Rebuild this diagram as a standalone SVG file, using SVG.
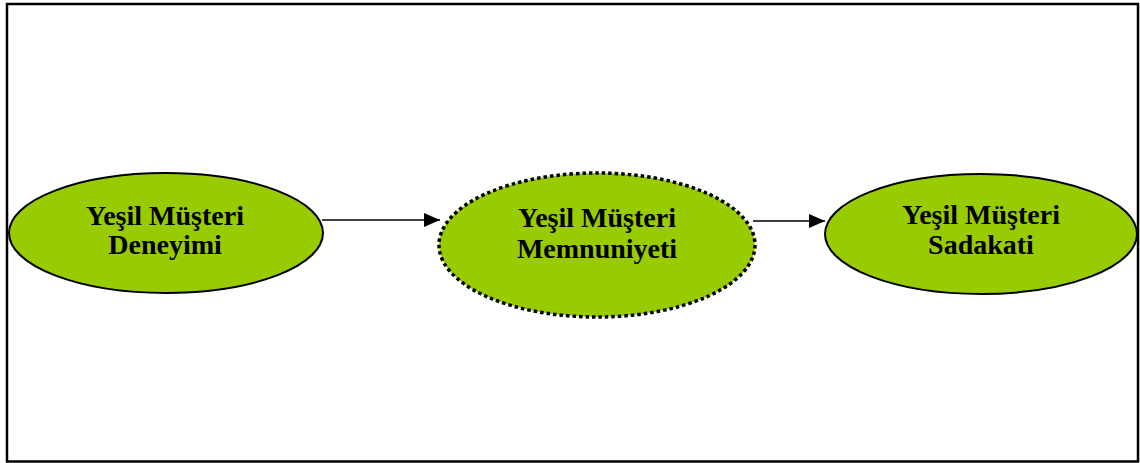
<svg xmlns="http://www.w3.org/2000/svg" width="1140" height="463" viewBox="0 0 1140 463">
  <style>
    .node { fill: #99cc00; stroke: #000; stroke-width: 2; }
    .dotted { stroke-width: 3.5; stroke-dasharray: 3.5 3; }
    .label { font-family: "Liberation Serif", "Times New Roman", serif; font-weight: bold; font-size: 28px; fill: #000; text-anchor: middle; }
    .edge { stroke: #000; stroke-width: 1.6; fill: none; marker-end: url(#arrow); }
  </style>
  <defs>
    <marker id="arrow" viewBox="0 0 16 14" refX="16" refY="7" markerWidth="16" markerHeight="14" markerUnits="userSpaceOnUse" orient="auto">
      <path d="M0,0 L16,7 L0,14 Z" fill="#000"/>
    </marker>
  </defs>
  <rect x="0" y="0" width="1140" height="463" fill="#fff"/>
  <!-- outer frame -->
  <rect x="7" y="4" width="1131" height="457.5" fill="none" stroke="#000" stroke-width="2.5"/>

  <g id="connectors">
    <line class="edge" x1="322" y1="220" x2="440" y2="220"/>
    <line class="edge" x1="753" y1="221" x2="825" y2="221"/>
  </g>

  <g id="deneyim">
    <ellipse class="node" cx="166" cy="233" rx="157" ry="60"/>
    <text class="label" x="165" y="225">Yeşil Müşteri</text>
    <text class="label" x="165" y="254">Deneyimi</text>
  </g>

  <g id="memnuniyet">
    <ellipse class="node dotted" cx="597" cy="245" rx="158" ry="72"/>
    <text class="label" x="597" y="227">Yeşil Müşteri</text>
    <text class="label" x="597" y="258">Memnuniyeti</text>
  </g>

  <g id="sadakat">
    <ellipse class="node" cx="981" cy="234" rx="156" ry="60"/>
    <text class="label" x="981" y="224">Yeşil Müşteri</text>
    <text class="label" x="981" y="254">Sadakati</text>
  </g>
</svg>
